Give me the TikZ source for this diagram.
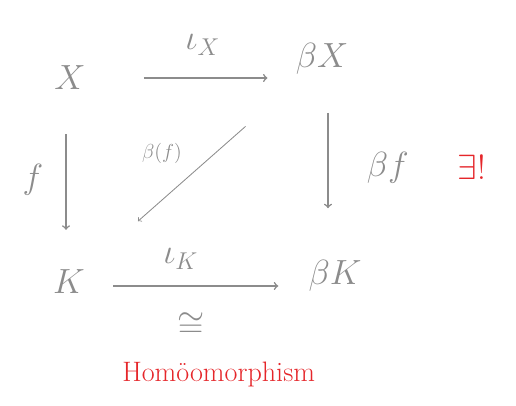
\documentclass[tikz,border=0pt]{standalone}
\usepackage{amsmath}
\usepackage{amssymb}
\usetikzlibrary{positioning}
\definecolor{pencil}{HTML}{8C8C8C}
\definecolor{redink}{HTML}{E5262A}

\begin{document}
\begin{tikzpicture}[obj/.style={inner sep=0pt, text=pencil, font=\fontsize{36}{40}\selectfont},
                    lbl/.style={inner sep=0pt, text=pencil, font=\fontsize{24}{28}\selectfont},
                    map/.style={pencil, line width=1.1pt, ->}]
            \useasboundingbox (0,0) rectangle (12.9,10.125);
            % Objects
            \node[obj] (X) at (1.75,8.175) {$X$};
            \node[obj] (bX) at (8.05,8.65) {$\beta X$};
            \node[obj] (K) at (1.725,3.075) {$K$};
            \node[obj] (bK) at (8.375,3.225) {$\beta K$};
            % Top: iota_X
            \draw[map, shorten <=1.45cm, shorten >=0.7cm] (X.east) -- (X.east -| bX.west)
                node[lbl, midway, above=0.55cm, xshift=0.3cm] (iX) {$\iota_X$};
            % Left: f
            \draw[map, shorten <=1.1cm, shorten >=1.0cm] ([xshift=-0.1cm]X.south) -- ([xshift=-0.1cm]X.south |- K.north)
                node[lbl, midway, left=0.55cm] (f) {$f$};
            % Right: beta f, unique
            \draw[map, shorten <=0.95cm, shorten >=1.3cm] ([xshift=0.15cm]bX.south) -- ([xshift=0.15cm]bX.south |- bK.north)
                node[lbl, midway, right=0.95cm] (bf) {$\beta f$};
            \node[inner sep=0pt, text=redink, font=\fontsize{34}{38}\selectfont, right=1.2cm of bf] (ex) {$\exists!$};
            % Diagonal: beta(f)
            \draw[pencil, line width=0.6pt, ->, shorten <=2.55cm, shorten >=2.3cm] (bX.center) -- (K.center);
            \node[inner sep=0pt, text=pencil, font=\fontsize{15}{18}\selectfont] (bfd) at (4.05,6.3) {$\beta(f)$};
            % Bottom: iota_K, homeomorphism
            \draw[map, shorten <=0.7cm, shorten >=0.75cm] ([yshift=-0.1cm]K.east) -- ([yshift=-0.1cm]K.east -| bK.west)
                node[lbl, midway, above=0.4cm, xshift=-0.4cm] (iK) {$\iota_K$}
                node[lbl, midway, below=0.65cm, xshift=-0.15cm] (iso) {$\cong$};
            \node[inner sep=0pt, text=redink, font=\fontsize{20}{24}\selectfont, below=0.6cm of iso, xshift=0.7cm] (homeo) {Homöomorphism};
        \end{tikzpicture}
\end{document}
